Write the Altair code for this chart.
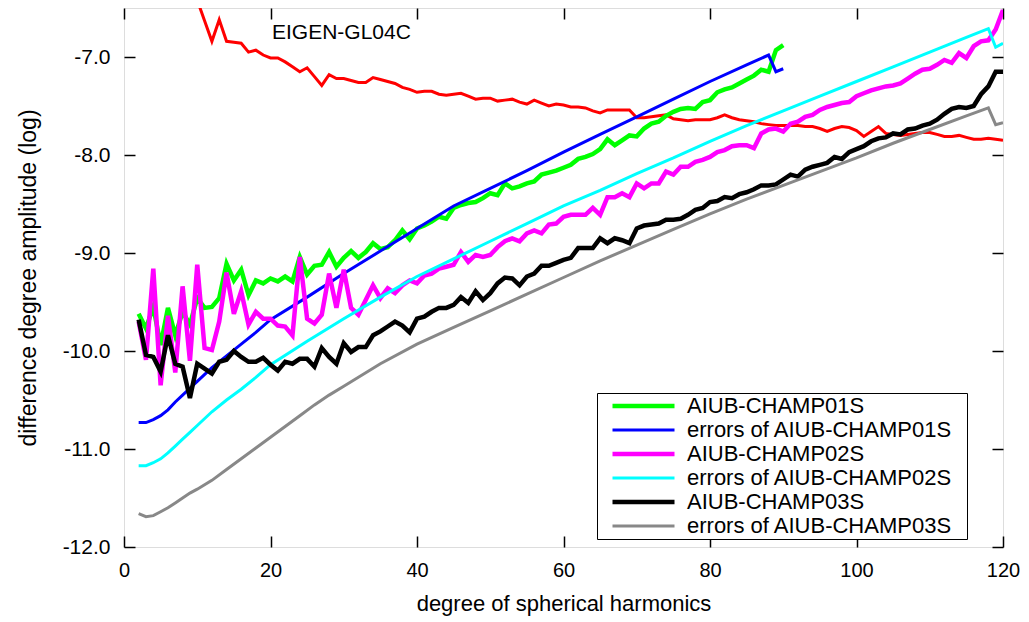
import altair as alt
import pandas as pd

# ---------------- data ----------------
series_names = [
    "AIUB-CHAMP01S",
    "errors of AIUB-CHAMP01S",
    "AIUB-CHAMP02S",
    "errors of AIUB-CHAMP02S",
    "AIUB-CHAMP03S",
    "errors of AIUB-CHAMP03S",
]
series_colors = ["#00ff00", "#0000ff", "#ff00ff", "#00ffff", "#000000", "#888888"]
series_widths = [4.5, 3, 4.5, 3, 4.5, 3]

ref_name = "EIGEN-GL04C"

green_deg = list(range(2, 91))
green_val = [
    -9.62, -9.77, -9.55, -9.94, -9.56, -9.84, -9.60, -9.73, -9.46, -9.56,
    -9.55, -9.46, -9.11, -9.28, -9.17, -9.43, -9.28, -9.31, -9.26, -9.29,
    -9.24, -9.29, -9.04, -9.22, -9.13, -9.12, -8.99, -9.14, -9.05, -8.98,
    -9.05, -8.99, -8.90, -8.96, -8.94, -8.87, -8.77, -8.86, -8.75, -8.72,
    -8.68, -8.63, -8.65, -8.54, -8.51, -8.49, -8.48, -8.44, -8.39, -8.41,
    -8.29, -8.34, -8.32, -8.29, -8.27, -8.20, -8.18, -8.16, -8.13, -8.10,
    -8.04, -8.02, -7.99, -7.94, -7.84, -7.90, -7.85, -7.80, -7.81, -7.73,
    -7.68, -7.66, -7.60, -7.56, -7.53, -7.52, -7.53, -7.46, -7.44, -7.36,
    -7.33, -7.31, -7.27, -7.23, -7.19, -7.13, -7.15, -6.93, -6.88,
]

blue_deg = [2, 3, 4, 5, 6, 7, 8, 9, 10, 12, 14, 16, 18, 20, 25, 30, 35, 40,
            45, 50, 55, 60, 65, 70, 75, 80, 85, 88, 89, 90]
blue_val = [-10.73, -10.73, -10.70, -10.66, -10.60, -10.52, -10.45, -10.38,
            -10.31, -10.17, -10.05, -9.93, -9.81, -9.68, -9.45, -9.21, -8.98,
            -8.75, -8.52, -8.34, -8.16, -7.97, -7.79, -7.61, -7.43, -7.25,
            -7.08, -6.98, -7.15, -7.12]

magenta_deg = list(range(2, 121))
magenta_val = [
    -9.70, -10.09, -9.16, -10.35, -9.64, -10.22, -9.34, -10.10, -9.12, -9.97,
    -9.99, -9.70, -9.20, -9.62, -9.39, -9.73, -9.60, -9.67, -9.67, -9.74,
    -9.75, -9.84, -9.04, -9.67, -9.72, -9.63, -9.21, -9.56, -9.17, -9.56,
    -9.63, -9.48, -9.33, -9.46, -9.36, -9.41, -9.33, -9.28, -9.31, -9.23,
    -9.21, -9.16, -9.14, -9.12, -8.99, -9.09, -9.02, -9.04, -9.02, -8.94,
    -8.88, -8.85, -8.88, -8.80, -8.77, -8.80, -8.71, -8.70, -8.63, -8.61,
    -8.61, -8.61, -8.54, -8.61, -8.43, -8.43, -8.39, -8.43, -8.29, -8.34,
    -8.29, -8.29, -8.17, -8.20, -8.12, -8.12, -8.07, -8.05, -8.02, -7.97,
    -7.95, -7.91, -7.90, -7.90, -7.93, -7.78, -7.74, -7.73, -7.76, -7.68,
    -7.66, -7.61, -7.59, -7.54, -7.51, -7.49, -7.47, -7.46, -7.40, -7.37,
    -7.34, -7.32, -7.30, -7.29, -7.27, -7.22, -7.17, -7.13, -7.12, -7.08,
    -7.03, -7.06, -6.96, -7.01, -6.89, -6.84, -6.83, -6.72, -6.52,
]

cyan_deg = [2, 3, 4, 5, 6, 7, 8, 9, 10, 12, 14, 16, 18, 20, 25, 30, 35, 40,
            45, 50, 55, 60, 65, 70, 75, 80, 85, 90, 95, 100, 105, 110, 115,
            118, 119, 120]
cyan_val = [-11.17, -11.17, -11.14, -11.10, -11.04, -10.97, -10.90, -10.83,
            -10.76, -10.62, -10.50, -10.39, -10.27, -10.14, -9.90, -9.67,
            -9.45, -9.24, -9.06, -8.88, -8.70, -8.52, -8.36, -8.19, -8.03,
            -7.86, -7.70, -7.55, -7.40, -7.25, -7.10, -6.95, -6.80, -6.71,
            -6.90, -6.86]

black_deg = list(range(2, 121))
black_val = [
    -9.68, -10.04, -10.06, -10.21, -9.84, -10.13, -10.16, -10.48, -10.13, -10.18,
    -10.23, -10.11, -10.09, -10.00, -10.06, -10.11, -10.11, -10.07, -10.14, -10.20,
    -10.11, -10.13, -10.08, -10.08, -10.16, -9.97, -10.06, -10.13, -9.92, -10.01,
    -9.96, -9.96, -9.84, -9.80, -9.75, -9.70, -9.74, -9.81, -9.67, -9.65,
    -9.60, -9.56, -9.56, -9.53, -9.45, -9.51, -9.39, -9.48, -9.41, -9.31,
    -9.25, -9.26, -9.33, -9.24, -9.21, -9.13, -9.13, -9.10, -9.07, -9.05,
    -8.95, -8.95, -8.95, -8.85, -8.90, -8.85, -8.87, -8.90, -8.75, -8.72,
    -8.71, -8.70, -8.66, -8.66, -8.65, -8.61, -8.56, -8.54, -8.48, -8.47,
    -8.43, -8.44, -8.40, -8.38, -8.35, -8.31, -8.31, -8.30, -8.25, -8.20,
    -8.22, -8.15, -8.12, -8.10, -8.08, -8.02, -8.04, -7.97, -7.94, -7.91,
    -7.86, -7.83, -7.82, -7.78, -7.79, -7.74, -7.73, -7.70, -7.68, -7.64,
    -7.58, -7.53, -7.51, -7.52, -7.50, -7.38, -7.30, -7.15, -7.15,
]

gray_deg = [2, 3, 4, 5, 6, 7, 8, 9, 10, 12, 14, 16, 18, 20, 22, 24, 26, 28,
            30, 35, 40, 45, 50, 55, 60, 65, 70, 75, 80, 85, 90, 95, 100, 105,
            110, 115, 118, 119, 120]
gray_val = [-11.66, -11.69, -11.68, -11.64, -11.60, -11.55, -11.50, -11.45,
            -11.41, -11.32, -11.21, -11.10, -10.99, -10.88, -10.77, -10.66,
            -10.55, -10.45, -10.36, -10.13, -9.93, -9.76, -9.59, -9.42, -9.25,
            -9.08, -8.92, -8.76, -8.60, -8.45, -8.31, -8.17, -8.03, -7.88,
            -7.74, -7.60, -7.52, -7.69, -7.67]

red_deg = list(range(8, 121))
red_val = [
    -6.15, -6.28, -6.42, -6.63, -6.84, -6.62, -6.84, -6.85, -6.86, -6.95,
    -6.93, -6.98, -7.01, -7.01, -7.05, -7.10, -7.15, -7.11, -7.20, -7.29,
    -7.18, -7.22, -7.22, -7.24, -7.26, -7.26, -7.21, -7.23, -7.25, -7.27,
    -7.31, -7.33, -7.36, -7.35, -7.35, -7.38, -7.39, -7.38, -7.37, -7.40,
    -7.43, -7.42, -7.42, -7.45, -7.44, -7.43, -7.46, -7.48, -7.44, -7.47,
    -7.50, -7.48, -7.49, -7.51, -7.51, -7.52, -7.55, -7.57, -7.54, -7.54,
    -7.54, -7.54, -7.62, -7.62, -7.61, -7.60, -7.59, -7.63, -7.64, -7.65,
    -7.64, -7.64, -7.64, -7.62, -7.59, -7.62, -7.64, -7.65, -7.66, -7.68,
    -7.69, -7.70, -7.70, -7.70, -7.70, -7.71, -7.71, -7.73, -7.76, -7.73,
    -7.71, -7.72, -7.75, -7.81, -7.76, -7.71, -7.78, -7.79, -7.80, -7.79,
    -7.78, -7.77, -7.77, -7.79, -7.81, -7.81, -7.80, -7.82, -7.84, -7.84,
    -7.83, -7.84, -7.85,
]
red_color = "#ff0000"
red_width = 3

x_ticks = [0, 20, 40, 60, 80, 100, 120]
y_ticks = [-12, -11, -10, -9, -8, -7]

note_text = ["EIGEN-GL04C"]
note_deg = [20.2]
note_val = [-6.755]

# ---------------- tables ----------------
rows = []
for name, degs, vals in [
    (series_names[0], green_deg, green_val),
    (series_names[1], blue_deg, blue_val),
    (series_names[2], magenta_deg, magenta_val),
    (series_names[3], cyan_deg, cyan_val),
    (series_names[4], black_deg, black_val),
    (series_names[5], gray_deg, gray_val),
]:
    for d, v in zip(degs, vals):
        rows.append({"degree": d, "value": v, "series": name})
df = pd.DataFrame(rows)
red_df = pd.DataFrame({"degree": red_deg, "value": red_val, "series": ref_name})
note_df = pd.DataFrame({"degree": note_deg, "value": note_val, "label": note_text})

FONT = "Liberation Sans"
x_scale = alt.Scale(domain=[0, 120], nice=False, zero=False)
y_scale = alt.Scale(domain=[-12, -6.5], nice=False, zero=False)

common_axis = dict(
    tickSize=11, offset=-11, domain=False, grid=False, tickColor="black",
    tickWidth=1.5, labelColor="black", titleColor="black", labelFont=FONT,
    titleFont=FONT, titleFontWeight="normal",
    labelFlush=False, labelOverlap=False,
)

x_axis_bottom = alt.Axis(orient="bottom", values=x_ticks, format="d",
                         title="degree of spherical harmonics", titleFontSize=22,
                         labelFontSize=20, labelPadding=13, titlePadding=13,
                         **common_axis)
y_axis_left = alt.Axis(orient="left", values=y_ticks,
                       labelExpr="(datum.value < 0 ? '-' : '') + format(abs(datum.value), '.1f')",
                       title="difference degree amplitude (log)", titleFontSize=23,
                       labelFontSize=21, labelPadding=14, titlePadding=22,
                       **common_axis)
x_axis_top = alt.Axis(orient="top", values=x_ticks, labels=False, title=None,
                      **common_axis)
y_axis_right = alt.Axis(orient="right", values=y_ticks, labels=False, title=None,
                        **common_axis)

# blank spacer title on the right widens the legend frame like the reference
NBSP = "\u00a0"
legend = alt.Legend(
    title=NBSP * 6, titleOrient="right", titlePadding=14, titleFontSize=22,
    orient="none", legendX=473, legendY=385, direction="vertical",
    symbolType="stroke", symbolSize=3844, clipHeight=24, rowPadding=0,
    labelOffset=10, labelFontSize=22, labelFont=FONT, labelColor="black",
    labelLimit=600, strokeColor="black", fillColor="white", padding=1,
    symbolOffset=12,
)

color_enc = alt.Color("series:N", scale=alt.Scale(domain=series_names, range=series_colors),
                      legend=legend)
width_enc = alt.StrokeWidth("series:N",
                            scale=alt.Scale(type="ordinal", domain=series_names,
                                            range=series_widths),
                            legend=legend)

layers = []
# reference model line (carries the mirrored top/right axes)
layers.append(
    alt.Chart(red_df).mark_line(clip=True, color=red_color, strokeWidth=red_width).encode(
        x=alt.X("degree:Q", scale=x_scale, axis=x_axis_top),
        y=alt.Y("value:Q", scale=y_scale, axis=y_axis_right),
    )
)
for i, name in enumerate(series_names):
    layers.append(
        alt.Chart(df).transform_filter(alt.datum.series == name).mark_line(clip=True).encode(
            x=alt.X("degree:Q", scale=x_scale, axis=x_axis_bottom if i == 0 else None),
            y=alt.Y("value:Q", scale=y_scale, axis=y_axis_left if i == 0 else None),
            color=color_enc,
            strokeWidth=width_enc,
        )
    )
layers.append(
    alt.Chart(note_df).mark_text(align="left", baseline="middle", fontSize=21,
                                 font=FONT, color="black").encode(
        x=alt.X("degree:Q", scale=x_scale, axis=None),
        y=alt.Y("value:Q", scale=y_scale, axis=None),
        text="label:N",
    )
)

chart = alt.layer(*layers).resolve_axis(x="independent", y="independent").properties(
    width=879, height=539,
    autosize=alt.AutoSizeParams(type="none"),
    padding={"left": 124, "top": 8, "right": 26, "bottom": 75},
    background="white",
).configure_view(stroke="black", strokeWidth=2).configure(font=FONT)

chart.save("out.html", embed_options={"renderer": "svg", "actions": False})
